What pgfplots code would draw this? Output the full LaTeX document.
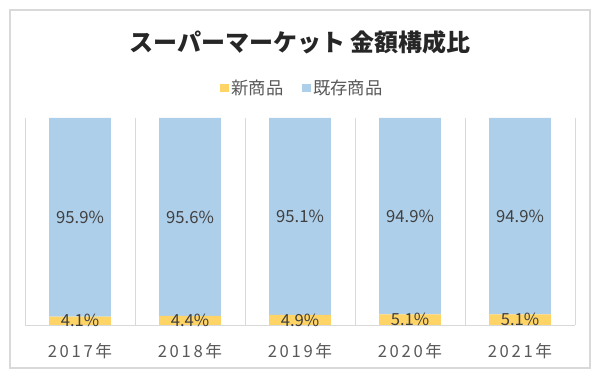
\documentclass[border=0pt]{standalone}
\usepackage{fontspec}
\setmainfont{Noto Sans CJK JP}
\usepackage{pgfplots}
\pgfplotsset{compat=1.18}
\definecolor{newc}{HTML}{FFD466}
\definecolor{oldc}{HTML}{AECFEA}
\definecolor{txt}{HTML}{404040}
\definecolor{tick}{HTML}{595959}
\definecolor{frame}{HTML}{D9D9D9}
\begin{document}
\begin{tikzpicture}
\useasboundingbox (-18.75pt,-39.75pt) rectangle (431.25pt,243.75pt);
\draw[frame, line width=0.8pt] (-11.25pt,-32.25pt) rectangle (423.75pt,236.25pt);
\begin{axis}[
  at={(0,0)}, anchor=south west,
  scale only axis, width=412.5pt, height=155.25pt,
  ybar stacked, bar width=0.56,
  xmin=-0.5, xmax=4.5, ymin=0, ymax=100,
  axis y line=none,
  axis x line*=bottom,
  x axis line style={frame, line width=0.6pt, -},
  xtick={0,1,2,3,4},
  xticklabels={2017年,2018年,2019年,2020年,2021年},
  major tick length=0pt,
  minor xtick={-0.5,0.5,1.5,2.5,3.5,4.5},
  minor tick length=0pt,
  xminorgrids, minor grid style={frame, line width=0.6pt},
  x tick label style={font=\addfontfeature{LetterSpace=16}\fontsize{12.5}{14}\selectfont, text=tick, yshift=-10pt},
  /pgf/number format/assume math mode=true,
  visualization depends on={rawy \as \rawy},
  nodes near coords={\pgfmathprintnumber[fixed,precision=1,fixed zerofill]{\rawy}\%},
  every node near coord/.append style={anchor=center, font=\fontsize{12.5}{14}\selectfont, text=txt},
  legend style={at={(0.505,1.145)}, anchor=center, draw=none, fill=none,
     legend columns=2, font=\fontsize{13}{15}\selectfont, text=tick,
     /tikz/every even column/.append style={column sep=12pt},
     inner sep=0pt},
  legend image code/.code={\fill[#1] (0pt,-3.2pt) rectangle (6.4pt,3.2pt);},
  clip=false,
]
\addplot[fill=newc, draw=none] coordinates {(0,4.1) (1,4.4) (2,4.9) (3,5.1) (4,5.1)};
\addplot[fill=oldc, draw=none] coordinates {(0,95.9) (1,95.6) (2,95.1) (3,94.9) (4,94.9)};
\legend{新商品,既存商品}
\end{axis}
\node[font=\bfseries\fontsize{18}{20}\selectfont, text=black!85] at (206.25pt,212.25pt) {スーパーマーケット 金額構成比};
\end{tikzpicture}
\end{document}
